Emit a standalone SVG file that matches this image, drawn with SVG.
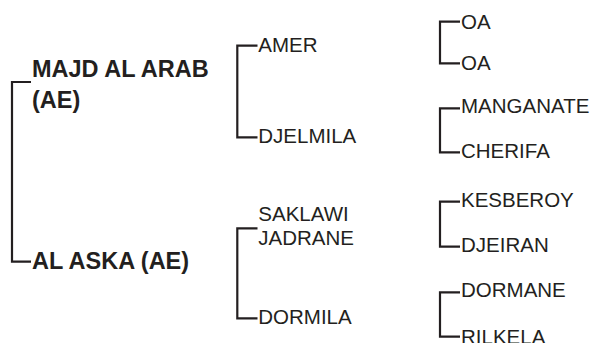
<svg xmlns="http://www.w3.org/2000/svg" width="596" height="343" viewBox="0 0 596 343">
<style>
.c{fill:none;stroke:#231f20;stroke-width:2.2}
.b{font-family:"Liberation Sans",Arial,sans-serif;font-weight:bold;font-size:23.5px;fill:#231f20}
.t{font-family:"Liberation Sans",Arial,sans-serif;font-size:20.5px;fill:#231f20}
</style>
<rect width="596" height="343" fill="#fff"/>
<g id="connectors">
<path class="c" d="M31,82H12V261.7H31"/>
<path class="c" d="M257.5,45.7H237.3V137.3H257.5"/>
<path class="c" d="M257.5,228.3H237.3V318.3H257.5"/>
<path class="c" d="M460,21.7H440V63.3H460"/>
<path class="c" d="M460,108.3H440V152.3H460"/>
<path class="c" d="M460,201.7H440V246.7H460"/>
<path class="c" d="M460,292.3H440V336.7H460"/>
</g>
<g id="n-majd"><text class="b" x="32" y="77.2">MAJD AL ARAB</text><text class="b" x="32" y="108.3">(AE)</text></g>
<g id="n-alaska"><text class="b" x="32" y="269.3">AL ASKA (AE)</text></g>
<g id="n-amer"><text class="t" x="258.3" y="52">AMER</text></g>
<g id="n-djelmila"><text class="t" x="258.3" y="143.3">DJELMILA</text></g>
<g id="n-saklawi"><text class="t" x="258.3" y="220.7">SAKLAWI</text><text class="t" x="258.3" y="245">JADRANE</text></g>
<g id="n-dormila"><text class="t" x="258.3" y="324">DORMILA</text></g>
<g id="n-oa1"><text class="t" x="461" y="29.3">OA</text></g>
<g id="n-oa2"><text class="t" x="461" y="70">OA</text></g>
<g id="n-manganate"><text class="t" x="461" y="113.3">MANGANATE</text></g>
<g id="n-cherifa"><text class="t" x="461" y="158.3">CHERIFA</text></g>
<g id="n-kesberoy"><text class="t" x="461" y="206.7">KESBEROY</text></g>
<g id="n-djeiran"><text class="t" x="461" y="252.3">DJEIRAN</text></g>
<g id="n-dormane"><text class="t" x="461" y="296.7">DORMANE</text></g>
<g id="n-rilkela"><text class="t" x="461" y="344">RILKELA</text></g>
</svg>
